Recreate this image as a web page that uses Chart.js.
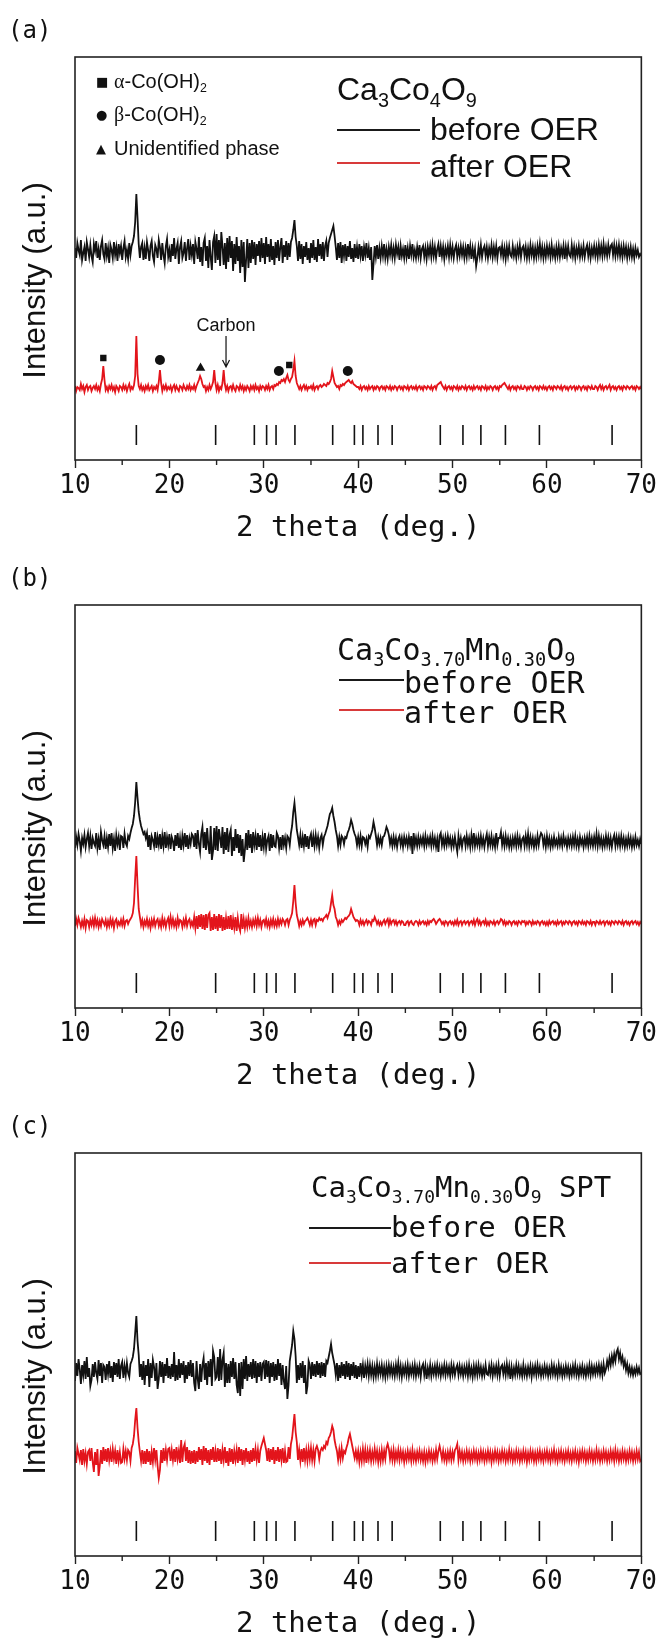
<!DOCTYPE html>
<html>
<head>
<meta charset="utf-8">
<script src="https://cdn.jsdelivr.net/npm/chart.js@4.4.1/dist/chart.umd.min.js"></script>
<style>
  html, body { margin: 0; padding: 0; background: #fff; }
  body { width: 660px; height: 1641px; position: relative; overflow: hidden; color: #111; }
  .panel { position: absolute; left: 0; width: 660px; height: 548px; }
  .panel canvas { position: absolute; left: 0; top: 0; }
  .txt { position: absolute; white-space: nowrap; line-height: 1; }
  .tag { font-family: "DejaVu Sans Mono", monospace; font-size: 24px; left: 8px; top: 18px; }
  .ar { font-family: "Liberation Sans", Arial, sans-serif; }
  .mono { font-family: "DejaVu Sans Mono", monospace; }
  .txt sub { font-size: 0.62em; vertical-align: -0.34em; line-height: 0; }
  .gr { font-family: "Liberation Serif", "Times New Roman", serif; }
  .sym { font-family: "DejaVu Sans", sans-serif; font-size: 13px; display: inline-block; width: 18px; vertical-align: 2px; }
  .swatch { position: absolute; height: 0; border-top: 2px solid #222; }
</style>
</head>
<body>

<div class="panel" style="top:0px">
  <canvas id="chartA" width="660" height="548"></canvas>
  <div class="txt tag">(a)</div>
  <div class="txt ar" style="left:96px; top:71px; font-size:20px;"><span class="sym">■</span><span class="gr">α</span>-Co(OH)<sub>2</sub></div>
  <div class="txt ar" style="left:96px; top:104px; font-size:20px;"><span class="sym">●</span><span class="gr">β</span>-Co(OH)<sub>2</sub></div>
  <div class="txt ar" style="left:96px; top:138px; font-size:20px;"><span class="sym">▲</span>Unidentified phase</div>
  <div class="txt ar" style="left:337px; top:73px; font-size:32px;">Ca<sub>3</sub>Co<sub>4</sub>O<sub>9</sub></div>
  <div class="swatch" style="left:337px; top:129px; width:83px; border-color:#1a1a1a;"></div>
  <div class="txt ar" style="left:430px; top:113px; font-size:32px;">before OER</div>
  <div class="swatch" style="left:337px; top:162px; width:83px; border-color:#d83a3a;"></div>
  <div class="txt ar" style="left:430px; top:150px; font-size:32px;">after OER</div>
</div>

<div class="panel" style="top:548px">
  <canvas id="chartB" width="660" height="548"></canvas>
  <div class="txt tag">(b)</div>
  <div class="txt mono" style="left:337px; top:87px; font-size:30px;">Ca<sub>3</sub>Co<sub>3.70</sub>Mn<sub>0.30</sub>O<sub>9</sub></div>
  <div class="swatch" style="left:339px; top:131px; width:65px; border-color:#1a1a1a;"></div>
  <div class="txt mono" style="left:404px; top:120px; font-size:30px;">before OER</div>
  <div class="swatch" style="left:339px; top:161px; width:65px; border-color:#d83a3a;"></div>
  <div class="txt mono" style="left:404px; top:150px; font-size:30px;">after OER</div>
</div>

<div class="panel" style="top:1096px">
  <canvas id="chartC" width="660" height="548"></canvas>
  <div class="txt tag">(c)</div>
  <div class="txt mono" style="left:311px; top:77px; font-size:29px;">Ca<sub>3</sub>Co<sub>3.70</sub>Mn<sub>0.30</sub>O<sub>9</sub> SPT</div>
  <div class="swatch" style="left:309px; top:131px; width:82px; border-color:#1a1a1a;"></div>
  <div class="txt mono" style="left:391px; top:117px; font-size:29px;">before OER</div>
  <div class="swatch" style="left:309px; top:166px; width:82px; border-color:#d83a3a;"></div>
  <div class="txt mono" style="left:391px; top:153px; font-size:29px;">after OER</div>
</div>

<script>
// Scan grid (deg. 2-theta), 0.125 deg. steps from 10 to 70
const twoThetaStart = 10;
const twoThetaStep = 0.125;
const twoThetaCount = 481;
const twoTheta = Array.from({ length: twoThetaCount }, (_, i) => twoThetaStart + i * twoThetaStep);

// x-axis ticks
const majorTicks = [10, 20, 30, 40, 50, 60, 70];
const minorTicks = [15, 25, 35, 45, 55, 65];

// Reference reflections of Ca3Co4O9
const refPeaks = [16.5, 24.9, 29.0, 30.3, 31.3, 33.3, 37.3, 39.6, 40.5, 42.1, 43.6, 48.7, 51.1, 53.0, 55.6, 59.2, 66.9];
const refTickLow = 15;
const refTickHigh = 35;

// (a) Ca3Co4O9 — intensities (a.u.), one row per 1.25 deg.
const beforeA = [
  4,-6,9,2,-3,12,-8,-1,5,-9,
  10,3,-5,7,-4,-10,8,1,11,-6,
  3,-8,6,12,-2,-7,9,-4,4,-11,
  7,2,-6,10,-3,5,-9,8,-1,6,
  -8,4,11,-5,2,-7,9,-3,6,10,
  16,30,58,34,8,-6,5,9,-8,4,
  -7,10,2,-9,6,11,-4,-10,7,3,
  -6,12,5,-8,9,-3,-11,6,13,-5,
  2,-10,8,-4,14,-7,3,9,-12,5,
  11,-6,-1,10,-9,4,13,-8,6,-3,
  8,-12,10,3,-7,15,-10,5,-14,9,
  14,-9,6,-16,12,-5,-18,10,16,-11,
  18,-8,12,-14,20,6,-13,9,-17,14,
  -10,16,-6,11,-19,8,-12,15,-9,6,
  -21,12,-15,10,-30,-8,13,-16,9,-11,
  12,-7,10,-13,8,-4,11,-10,14,-6,
  9,-12,15,-5,8,-10,13,-8,6,-13,
  10,-6,12,-9,5,14,-11,7,-5,11,
  -8,9,-5,10,14,22,32,15,6,-9,
  11,-7,8,-12,6,-5,10,-8,4,-11,
  9,-6,12,-8,5,-10,13,-4,8,-7,
  10,-9,6,11,-5,9,14,18,22,26,
  16,5,-8,9,-6,10,-11,7,-4,8,
  -9,6,-5,11,-7,4,-10,8,-6,5,
  -7,8,-4,6,-9,5,-3,9,-6,4,
  -8,5,-28,-12,6,-5,7,-7,4,-6,
  6,-4,8,-6,3,-7,5,-3,7,-5,
  4,-6,7,-2,5,-8,6,-4,3,-6,
  7,-5,4,-7,6,-3,8,-5,2,-6,
  5,-4,7,-6,3,6,-5,4,-7,5,
  -3,6,-5,7,-4,5,-6,3,8,-5,
  6,-4,5,-7,4,-3,6,-5,7,-4,
  5,-6,3,7,-5,4,-4,6,-3,5,
  -6,4,-5,8,-3,6,-7,4,-5,3,
  -14,-6,5,-4,7,-5,3,6,-4,5,
  -6,4,-3,7,-5,5,-4,6,-6,4,
  5,-3,6,-5,4,-7,5,-4,6,-3,
  -5,6,-4,3,-6,5,-3,7,-5,4,
  6,-4,5,-6,4,-5,7,-3,5,-6,
  4,-5,6,-3,8,-4,5,-6,4,-5,
  6,-3,5,-5,7,-4,3,-6,5,-4,
  6,-5,4,-3,6,-7,5,-4,6,-3,
  -5,7,-4,5,-6,4,-3,6,-5,4,
  -4,6,-5,3,7,-4,5,-6,4,-3,
  6,-4,5,-5,7,-3,6,-4,8,-3,
  5,-4,7,-2,6,8,-3,7,-4,6,
  -3,7,-4,5,-5,6,-3,5,-6,4,
  -4,5,-5,3,-6,4,-3,2,-5,-2,
  -4
];
const afterA = [
  2,-3,1,0,-2,4,-1,2,-4,1,
  3,-2,1,2,-3,0,2,-1,3,-2,
  1,-3,4,9,22,8,-2,1,-3,2,
  -1,3,-2,1,-4,2,0,-3,2,1,
  -2,3,-1,2,-3,1,4,-2,1,-1,
  3,12,52,14,2,-1,3,-2,1,-3,
  2,-1,3,-2,0,2,-3,1,-1,2,
  -2,6,18,5,-3,2,-1,3,-2,1,
  -1,2,-3,1,3,-2,2,-1,-3,2,
  1,-2,3,0,-2,2,-1,3,-2,1,
  -1,3,-2,2,5,8,12,9,4,1,
  2,-3,1,-2,3,-1,2,6,18,5,
  -2,3,-3,1,-1,5,18,4,-2,2,
  -3,1,2,-2,3,-1,-3,2,1,-2,
  3,-1,2,-3,1,-2,2,0,-3,2,
  -1,2,-2,3,-1,1,-3,2,-1,2,
  1,-2,2,-1,3,-2,1,2,-1,3,
  2,4,3,6,5,8,7,9,6,10,
  13,8,6,9,11,18,27,12,5,2,
  -1,2,-2,1,3,-1,2,-2,1,0,
  2,-1,3,-2,1,2,-1,2,3,1,
  2,4,3,2,5,4,6,9,17,11,
  5,3,1,2,-1,3,2,4,3,5,
  6,7,8,6,5,7,4,3,2,1,
  1,-1,2,-2,1,2,-1,1,-2,2,
  -1,1,2,-2,1,-1,2,1,-2,1,
  2,-1,1,-2,2,1,-1,2,-2,1,
  -1,2,1,-2,1,2,-1,1,-2,2,
  1,-1,2,-2,1,2,-1,1,-1,2,
  -2,1,2,-1,1,-2,2,1,-1,2,
  1,-1,2,-2,1,2,-1,3,4,5,
  6,3,1,-1,2,-2,1,2,-1,1,
  -2,2,1,-1,2,-2,1,-1,2,1,
  -1,2,-2,1,2,-1,1,-2,2,-1,
  1,2,-1,1,-2,2,1,-1,2,-2,
  1,-1,2,1,-2,1,2,-1,1,-2,
  2,1,3,4,5,3,1,-1,2,-2,
  1,2,-1,1,-2,2,1,-1,2,-1,
  -1,2,1,-2,1,-1,2,1,-2,1,
  2,-1,1,-2,2,1,-1,2,-1,1,
  -2,1,2,-1,1,-2,2,1,-1,2,
  1,-1,2,-2,1,2,-1,1,-2,1,
  2,-1,1,2,-2,1,-1,2,1,-2,
  1,2,-1,1,-2,2,1,-1,2,-1,
  -1,2,1,-2,1,3,-1,2,-2,1,
  2,-1,1,3,-2,1,2,-1,1,-2,
  1,2,-1,1,-2,2,1,-1,2,1,
  -1,1,2,-1,1,-2,2,1,-1,1,
  -1
];

// (b) Ca3Co3.70Mn0.30O9
const beforeB = [
  -6,5,-3,8,1,-9,4,-2,7,-5,
  3,9,-4,6,-7,4,-1,-4,9,-6,
  3,-8,10,2,-3,6,-7,4,-5,8,
  -4,9,-6,3,-9,7,-2,5,-8,6,
  5,-6,8,-1,-4,6,3,9,14,18,
  26,40,60,44,30,22,16,12,8,10,
  4,9,-5,7,-8,6,2,-4,10,-6,
  5,-3,8,-7,6,-4,10,-6,5,-3,
  8,-7,5,1,-9,7,-4,9,-6,4,
  -8,6,-3,9,-5,7,-7,4,-2,8,
  6,-5,9,-7,12,-2,-10,8,15,-6,
  10,-8,14,-3,-12,16,-18,-9,14,-8,
  16,-9,13,4,-6,15,-12,10,-8,14,
  -10,7,12,-14,5,-9,13,-6,8,-11,
  7,-14,3,-20,-8,9,-8,12,-6,8,
  -11,10,-3,6,-8,9,-5,7,-9,5,
  -5,9,-7,2,6,-9,8,-6,7,-4,
  -5,9,6,-6,5,-8,7,-3,4,-6,
  6,4,-3,9,16,30,39,26,12,5,
  -3,7,-6,5,-4,8,-5,6,-7,4,
  8,-5,6,-4,7,-3,5,-6,4,7,
  -3,5,8,12,16,22,28,30,34,26,
  20,12,6,-4,5,-3,6,4,-2,5,
  4,9,12,16,22,18,12,8,5,-3,
  5,-3,6,-4,5,4,-2,3,-5,6,
  4,8,12,20,14,6,-3,5,-2,4,
  -3,5,6,10,15,12,7,-2,4,-4,
  5,-3,4,-5,3,6,-3,4,-5,5,
  -2,4,-4,5,-3,6,-12,9,-3,4,
  -4,5,-3,4,-2,5,-4,6,-3,4,
  -2,5,-4,6,-3,4,-5,3,-10,6,
  9,-3,4,-4,5,-3,6,-2,4,-5,
  3,-4,5,-3,-10,6,-3,4,-5,3,
  5,-4,6,-3,4,-5,7,-3,9,-4,
  4,-3,5,-4,6,-3,4,-5,3,8,
  -4,5,-3,6,-4,3,-5,9,-3,4,
  4,10,-3,5,-4,6,-3,4,-5,3,
  -5,4,-3,5,-4,6,-3,4,-5,3,
  5,-4,6,-3,8,-4,5,-3,4,-5,
  3,-4,6,-3,5,9,7,-3,4,-5,
  6,-3,4,-5,3,-4,5,-3,2,-4,
  5,-3,4,-4,6,-2,3,-5,4,-3,
  4,-4,5,-3,6,-4,3,-5,5,-2,
  3,-5,4,-3,5,-4,6,-3,4,-4,
  5,-3,8,-4,6,-3,4,-5,3,-4,
  6,-3,5,-4,4,-5,3,7,-4,5,
  -3,5,-4,6,-3,4,-5,3,-4,5,
  -3,4,-5,3,-4,5,-3,2,-4,3,
  -2
];
const afterB = [
  -3,4,-2,5,1,-4,2,-3,4,-5,
  3,2,-4,3,-2,4,-3,5,-2,3,
  -4,2,-3,4,1,-2,3,-4,2,-3,
  4,-2,3,-5,2,4,-3,1,-2,3,
  -2,4,-3,2,3,-1,2,4,6,10,
  20,45,67,38,14,6,-2,3,-4,2,
  -2,4,-3,2,-5,3,-2,4,-3,2,
  4,-3,2,-4,5,-2,3,-4,2,5,
  -3,6,-2,4,-3,2,-4,5,-2,3,
  2,-4,3,-2,5,-3,2,4,-3,1,
  -3,6,-5,7,-6,8,-4,9,-6,8,
  -7,9,-5,8,10,-8,6,-7,9,-6,
  7,-8,9,-5,8,-8,6,-7,5,-6,
  7,-6,8,-7,4,-5,6,-8,5,-4,
  -8,9,-6,4,-5,3,-4,5,-3,2,
  -4,3,-2,4,-3,5,-2,3,-4,2,
  3,-2,4,-3,2,-4,3,-2,4,-3,
  2,-3,4,-2,3,-1,4,2,-2,3,
  4,-2,3,6,10,22,38,20,8,3,
  -3,2,-2,3,-1,2,3,5,2,-2,
  3,-2,3,4,-2,3,2,5,3,4,
  2,5,6,8,5,9,12,20,28,18,
  14,6,3,-2,2,-1,3,1,3,5,
  4,6,7,9,14,10,6,4,2,3,
  2,-2,3,-1,2,-2,1,3,-1,2,
  1,-2,3,2,6,3,-1,2,-2,1,
  -2,1,3,-1,2,4,-2,3,-1,2,
  3,-1,2,-2,1,2,-1,2,1,-2,
  -2,1,2,-2,1,2,-1,-2,1,2,
  1,-2,2,-1,1,2,-1,1,-2,2,
  -1,2,1,3,4,2,-1,1,3,4,
  2,-1,1,-2,2,1,-2,1,2,-1,
  1,-2,2,-1,3,-2,1,2,-2,1,
  2,-1,1,2,-2,1,2,-1,3,-2,
  2,4,-1,2,-2,1,2,-1,3,-2,
  1,-2,2,1,-1,2,-2,1,2,-1,
  1,4,3,-1,2,-2,1,-1,2,1,
  -2,1,2,-1,1,-2,2,1,-1,2,
  1,2,-2,1,-1,2,1,-2,2,-1,
  1,-1,2,1,-2,1,2,-1,1,-2,
  1,-2,2,-1,1,2,-1,1,-2,2,
  -1,1,2,-2,1,-1,2,1,-1,2,
  1,-2,1,2,-1,1,-2,2,1,-1,
  2,-1,1,-2,2,1,-1,2,-2,1,
  1,-2,2,1,-1,2,-1,1,2,-2,
  1,2,-1,1,-2,2,1,-1,2,1,
  -1,2,1,-1,2,-2,1,2,-1,1,
  -2,1,2,-1,1,2,-1,1,-2,1,
  -1
];

// (c) Ca3Co3.70Mn0.30O9 SPT
const beforeC = [
  -10,8,-5,12,2,-13,6,-4,10,-8,
  14,-6,3,-15,-9,7,-6,9,-2,-8,
  11,-5,8,-12,6,4,-9,7,-3,10,
  -7,5,-11,9,-4,8,-6,12,-8,5,
  9,-7,5,-4,8,-2,-6,7,10,14,
  22,38,55,30,16,-6,7,-9,10,-14,
  6,-5,12,-16,8,-7,11,4,-10,8,
  -18,-8,10,-6,9,-12,7,-5,13,-7,
  5,-8,7,-6,19,-10,6,-9,12,-7,
  8,-4,10,-12,6,-8,9,-5,11,-6,
  8,-12,-20,10,-8,-18,7,-11,6,13,
  -9,8,-14,10,-6,12,-15,20,14,-8,
  -6,14,-10,22,-9,11,18,-16,8,-12,
  7,-12,10,-6,13,-8,9,-14,-22,8,
  -25,9,-18,12,-8,15,-10,7,-6,9,
  -8,12,-7,10,-12,8,-6,9,-10,7,
  9,-8,11,-6,10,-12,8,-6,9,-10,
  7,-9,12,-5,8,-14,6,-10,-18,5,
  -28,-14,10,18,26,40,32,15,-12,6,
  -9,8,-7,10,-12,6,-23,-15,10,6,
  -8,9,-5,7,-6,10,-4,8,-7,9,
  -5,8,-6,10,8,14,20,27,18,12,
  6,-4,8,-10,6,-7,9,-5,7,-8,
  10,-6,8,-9,7,-5,9,-7,6,-8,
  5,-6,8,-4,6,-7,5,-3,7,-5,
  6,-4,5,-6,4,-5,7,-4,5,-3,
  6,-5,4,-6,5,-4,6,-3,5,-4,
  4,-5,6,-3,8,-4,5,-6,4,-3,
  5,-4,6,-5,4,-3,5,-4,6,-5,
  4,-3,5,-6,4,7,-4,5,-8,3,
  -4,6,-5,4,-3,5,-4,6,-3,4,
  -5,4,-3,6,-4,5,-3,4,-5,6,
  -3,5,-4,3,6,-4,5,-3,4,-5,
  4,-3,5,-5,6,-4,3,-6,5,-4,
  5,-4,6,-3,4,-5,3,-4,6,-3,
  -4,5,-3,6,-5,4,-3,5,-4,6,
  -5,4,6,-3,5,-4,7,-3,5,-8,
  4,-5,3,-4,6,-3,5,-4,3,-5,
  6,-4,3,-5,4,-3,5,-6,4,-3,
  5,-4,6,-3,4,-5,3,-4,5,-3,
  4,-5,3,-4,6,-3,5,-4,3,-5,
  6,-3,4,-5,3,-4,5,-3,4,-5,
  3,-4,5,-3,6,-4,3,-5,4,-3,
  5,-4,3,-5,4,-3,6,-4,5,-3,
  4,-3,5,-2,6,-3,5,-4,7,-2,
  2,10,4,13,6,15,8,17,10,19,
  22,12,18,9,14,5,10,1,7,-2,
  4,-3,3,-4,2,-3,4,-2,3,-3,
  -2
];
const afterC = [
  5,-7,8,2,-4,6,-9,7,-5,3,
  -8,4,6,-5,8,-6,-16,4,-9,7,
  -20,-10,6,-8,9,-5,7,-6,8,-4,
  5,-6,7,-3,5,-8,6,-5,4,-7,
  -6,7,-3,5,-4,6,4,-5,8,12,
  20,36,48,28,14,4,-5,6,-8,5,
  -8,7,-6,5,-9,4,-6,8,-4,6,
  -10,-22,-14,6,-7,8,-5,6,-4,7,
  8,-5,6,-4,7,-6,9,-3,5,-7,
  16,-6,8,12,-5,9,-7,6,-8,5,
  -7,6,-8,5,-6,9,-4,7,-9,10,
  -5,8,-7,6,-9,7,-4,9,-6,5,
  -6,8,-5,7,-8,6,-4,9,-7,5,
  -10,8,-6,7,-8,5,-4,6,-7,9,
  -5,7,-9,6,-4,8,-6,5,-8,6,
  -6,8,-5,7,-4,6,-7,5,10,14,
  18,12,6,-5,8,-6,7,-4,9,-8,
  6,-5,9,-6,7,-4,8,-7,5,-6,
  -5,9,-3,12,18,30,42,24,14,-4,
  6,-5,7,-6,8,-4,6,-5,7,-3,
  8,-4,6,-5,7,10,6,-3,5,8,
  6,10,8,14,12,18,20,24,30,26,
  16,10,5,-4,6,-3,8,-2,5,3,
  8,12,18,22,16,10,4,-2,5,-3,
  5,-6,4,-5,7,-4,6,-7,5,-3,
  6,-5,4,-4,7,-3,5,-6,4,-5,
  6,-4,5,-3,8,12,7,-3,5,-4,
  6,-5,4,-3,6,-4,5,-3,4,-6,
  3,-4,5,-3,4,-5,6,-4,3,-5,
  4,-3,5,-4,3,-5,4,-6,3,-4,
  5,-3,4,-5,3,-4,6,-3,5,10,
  4,-3,5,-4,3,-5,4,-3,5,-4,
  4,-3,6,8,12,-4,5,-3,4,-5,
  3,-4,5,-3,4,-5,3,-4,5,-3,
  4,-5,3,-4,5,-3,4,-5,3,-4,
  5,-3,4,-6,3,-4,5,-3,4,-5,
  3,-4,5,-3,4,-5,3,-4,6,-3,
  4,-5,3,-4,5,-3,4,-5,3,-4,
  5,-3,4,-6,3,-4,5,-3,4,-5,
  3,-5,4,-3,5,-4,3,-5,4,-3,
  5,-4,3,-5,4,-3,6,-4,3,-5,
  4,-3,5,-4,3,-5,4,-3,5,-4,
  3,-5,4,-3,5,-4,3,-6,4,-3,
  5,-3,4,-5,3,-4,5,-3,4,-5,
  3,-4,6,-3,4,-5,3,-4,5,-3,
  4,-5,3,-4,5,-3,4,-5,6,-3,
  4,-5,3,-4,5,-3,4,-5,3,-4,
  5,-3,4,-5,3,-4,5,-3,4,-5,
  -3
];

// Phase markers above the after-OER pattern of (a)
const markerAngles = [13.0, 19.0, 23.3, 31.6, 32.7, 38.9];
const markerLevels = [30, 28, 20, 17, 23, 17];
const markerShapes = ['rect', 'circle', 'triangle', 'circle', 'rect', 'circle'];

// Carbon reflection note in (a)
const carbonNote = { text: 'Carbon', angle: 26.0, textLevel: 62, arrowFrom: 52, arrowTo: 21 };

const RED = '#e3141b';
const INK = '#111111';
const MONO = '"DejaVu Sans Mono", monospace';
const SANS = '"Liberation Sans", Arial, sans-serif';
const PLOT_LEFT = 75;
const PLOT_TOP = 57;
const PLOT_HEIGHT = 403;
const Y_TITLE = 'Intensity (a.u.)';

const panels = [
  { id: 'chartA', before: beforeA, after: afterA, beforeShift: 208, afterShift: 72, markers: true },
  { id: 'chartB', before: beforeB, after: afterB, beforeShift: 166, afterShift: 85, markers: false },
  { id: 'chartC', before: beforeC, after: afterC, beforeShift: 185, afterShift: 100, markers: false }
];

// Box around the plot area, short minor ticks and the rotated intensity title
const framePlugin = {
  id: 'frame',
  afterDatasetsDraw(chart) {
    const { ctx, chartArea: a, scales: { x } } = chart;
    ctx.save();
    ctx.strokeStyle = '#222';
    ctx.lineWidth = 1.6;
    ctx.strokeRect(a.left, a.top, a.right - a.left, a.bottom - a.top);
    ctx.lineWidth = 1.4;
    ctx.beginPath();
    minorTicks.forEach(v => {
      const px = x.getPixelForValue(v);
      ctx.moveTo(px, a.bottom);
      ctx.lineTo(px, a.bottom + 5);
    });
    ctx.stroke();

    ctx.translate(36, (a.top + a.bottom) / 2 + 22);
    ctx.rotate(-Math.PI / 2);
    ctx.fillStyle = INK;
    ctx.font = '31px ' + SANS;
    ctx.textAlign = 'center';
    ctx.textBaseline = 'middle';
    ctx.fillText(Y_TITLE, 0, 0);
    ctx.restore();
  }
};

// "Carbon" label with a downward arrow
const carbonPlugin = {
  id: 'carbon',
  afterDatasetsDraw(chart, args, opts) {
    if (!opts.show) return;
    const { ctx, scales: { x, y } } = chart;
    const px = x.getPixelForValue(carbonNote.angle);
    const yText = y.getPixelForValue(carbonNote.textLevel + opts.shift);
    const y0 = y.getPixelForValue(carbonNote.arrowFrom + opts.shift);
    const y1 = y.getPixelForValue(carbonNote.arrowTo + opts.shift);
    ctx.save();
    ctx.fillStyle = INK;
    ctx.font = '18px ' + SANS;
    ctx.textAlign = 'center';
    ctx.textBaseline = 'middle';
    ctx.fillText(carbonNote.text, px, yText);
    ctx.strokeStyle = INK;
    ctx.lineWidth = 1.2;
    ctx.beginPath();
    ctx.moveTo(px, y0);
    ctx.lineTo(px, y1);
    ctx.moveTo(px - 3.5, y1 - 7);
    ctx.lineTo(px, y1);
    ctx.lineTo(px + 3.5, y1 - 7);
    ctx.stroke();
    ctx.restore();
  }
};

function buildPanel(p) {
  const datasets = [
    {
      label: 'before OER',
      data: twoTheta.map((t, i) => ({ x: t, y: p.before[i] + p.beforeShift })),
      borderColor: INK, borderWidth: 1.8, pointRadius: 0, tension: 0
    },
    {
      label: 'after OER',
      data: twoTheta.map((t, i) => ({ x: t, y: p.after[i] + p.afterShift })),
      borderColor: RED, borderWidth: 1.8, pointRadius: 0, tension: 0
    },
    {
      label: 'Ca3Co4O9 reference',
      data: refPeaks.flatMap(t => [{ x: t, y: refTickLow }, { x: t, y: refTickHigh }, { x: t, y: null }]),
      borderColor: INK, borderWidth: 1.6, pointRadius: 0, spanGaps: false
    }
  ];
  if (p.markers) {
    datasets.push({
      type: 'scatter',
      label: 'phases',
      data: markerAngles.map((t, i) => ({ x: t, y: markerLevels[i] + p.afterShift })),
      pointStyle: markerShapes,
      pointRadius: [4.5, 5, 5.5, 5, 4.5, 5],
      backgroundColor: INK,
      borderColor: INK,
      borderWidth: 0
    });
  }

  return new Chart(document.getElementById(p.id), {
    type: 'line',
    data: { datasets },
    plugins: [framePlugin, carbonPlugin],
    options: {
      responsive: false,
      animation: false,
      events: [],
      layout: { padding: { top: PLOT_TOP, right: 18, left: PLOT_LEFT, bottom: 0 } },
      plugins: {
        legend: { display: false },
        tooltip: { enabled: false },
        carbon: { show: p.markers, shift: p.afterShift }
      },
      scales: {
        x: {
          type: 'linear', min: 10, max: 70,
          afterBuildTicks: s => { s.ticks = majorTicks.map(v => ({ value: v })); },
          ticks: { font: { family: MONO, size: 26 }, color: INK, padding: 3, maxRotation: 0, autoSkip: false },
          grid: { display: true, drawOnChartArea: false, drawTicks: true, tickLength: 8, tickColor: '#222', tickWidth: 1.4 },
          border: { display: false },
          title: { display: true, text: '2 theta (deg.)', font: { family: MONO, size: 29 }, color: INK, padding: { top: 0, bottom: 2 } },
          afterFit: s => { s.height = 88; }
        },
        y: {
          display: false,
          min: 0, max: PLOT_HEIGHT
        }
      }
    }
  });
}

panels.forEach(buildPanel);
</script>
</body>
</html>
